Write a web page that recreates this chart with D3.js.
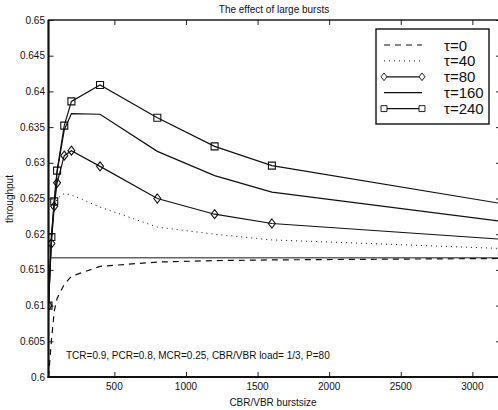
<!DOCTYPE html>
<html>
<head>
<meta charset="utf-8">
<script src="https://cdn.jsdelivr.net/npm/d3@7"></script>
<style>
  body { margin: 0; background: #fff; }
  text { font-family: "Liberation Sans", Arial, sans-serif; fill: #111; }
</style>
</head>
<body>
<script>
    // burst sizes where the curves were sampled
    const burstSizes = [40, 60, 80, 100, 150, 200, 400, 800, 1200, 1600, 3200];

    // throughput per tau value
    const tau0   = [0.6000, 0.6050, 0.6092, 0.6110, 0.6130, 0.6141, 0.6155, 0.6161, 0.6163, 0.6164, 0.6166];
    const tau40  = [0.6100, 0.6195, 0.6236, 0.6250, 0.6257, 0.6255, 0.6238, 0.6210, 0.6200, 0.6192, 0.6180];
    const tau80  = [0.6100, 0.6187, 0.6239, 0.6272, 0.6310, 0.6317, 0.6295, 0.6250, 0.6228, 0.6215, 0.6193];
    const tau160 = [0.6100, 0.6194, 0.6245, 0.6287, 0.6346, 0.6369, 0.6368, 0.6316, 0.6282, 0.6259, 0.6218];
    const tau240 = [0.6100, 0.6196, 0.6246, 0.6289, 0.6352, 0.6386, 0.6409, 0.6363, 0.6323, 0.6296, 0.6243];

    // the flat reference level
    const limitLevel = 0.6167;

    const legendLabels = ["τ=0", "τ=40", "τ=80", "τ=160", "τ=240"];
    const xTicks = [500, 1000, 1500, 2000, 2500, 3000];
    const yTicks = [0.6, 0.605, 0.61, 0.615, 0.62, 0.625, 0.63, 0.635, 0.64, 0.645, 0.65];

    const width = 498;
    const height = 410;
    const pLeft = 48.5, pRight = 501, pTop = 20, pBottom = 377;

    const svg = d3.select("body")
      .append("svg")
      .attr("width", width)
      .attr("height", height);

    const x = d3.scaleLinear().domain([40, 3200]).range([pLeft, pRight]);
    const y = d3.scaleLinear().domain([0.6, 0.65]).range([pBottom, pTop]);

    svg.append("clipPath").attr("id", "plot")
      .append("rect")
      .attr("x", pLeft).attr("y", pTop)
      .attr("width", pRight - pLeft).attr("height", pBottom - pTop);

    // axes, ticks pointing inward
    const fmtY = d => String(+d.toFixed(3));
    svg.append("g")
      .attr("transform", `translate(0,${pBottom})`)
      .call(d3.axisTop(x).tickValues(xTicks).tickSize(5).tickFormat(""));
    svg.append("g")
      .attr("transform", `translate(0,${pTop})`)
      .call(d3.axisBottom(x).tickValues(xTicks).tickSize(5).tickFormat(""));
    svg.append("g")
      .attr("transform", `translate(${pLeft},0)`)
      .call(d3.axisRight(y).tickValues(yTicks).tickSize(5).tickFormat(""));
    svg.append("g")
      .attr("transform", `translate(${pRight},0)`)
      .call(d3.axisLeft(y).tickValues(yTicks).tickSize(5).tickFormat(""));
    svg.selectAll(".domain").remove();
    svg.selectAll(".tick line").attr("stroke", "#222").attr("stroke-width", 1);

    // tick labels
    svg.append("g").selectAll("text")
      .data(xTicks)
      .enter()
      .append("text")
      .attr("x", d => x(d))
      .attr("y", pBottom + 13)
      .attr("text-anchor", "middle")
      .attr("font-size", 10)
      .text(d => d);
    svg.append("g").selectAll("text")
      .data(yTicks)
      .enter()
      .append("text")
      .attr("x", pLeft - 3.5)
      .attr("y", d => y(d) + 3.5)
      .attr("text-anchor", "end")
      .attr("font-size", 10)
      .text(fmtY);

    // frame
    svg.append("rect")
      .attr("x", pLeft).attr("y", pTop)
      .attr("width", pRight - pLeft).attr("height", pBottom - pTop)
      .attr("fill", "none")
      .attr("stroke", "#111")
      .attr("stroke-width", 1.4);
    svg.append("line")
      .attr("x1", pLeft).attr("x2", pLeft).attr("y1", pTop).attr("y2", pBottom + 1)
      .attr("stroke", "#111").attr("stroke-width", 2);
    svg.append("line")
      .attr("x1", pLeft - 1).attr("x2", pRight).attr("y1", pBottom).attr("y2", pBottom)
      .attr("stroke", "#111").attr("stroke-width", 2.2);

    const plot = svg.append("g").attr("clip-path", "url(#plot)");

    plot.append("line")
      .attr("x1", pLeft).attr("x2", pRight)
      .attr("y1", y(limitLevel)).attr("y2", y(limitLevel))
      .attr("stroke", "#666")
      .attr("stroke-width", 1.4);

    const series = [
      { values: tau0, dash: "6,5", marker: null },
      { values: tau40, dash: "1,4", marker: null },
      { values: tau80, dash: null, marker: "diamond" },
      { values: tau160, dash: null, marker: null },
      { values: tau240, dash: null, marker: "square" }
    ];

    const line = d3.line()
      .x((d, i) => x(burstSizes[i]))
      .y(d => y(d));

    const diamond = "M0,-4.5L3.5,0L0,4.5L-3.5,0Z";
    const square = "M-3.5,-3.5H3.5V3.5H-3.5Z";

    series.forEach(s => {
      plot.append("path")
        .attr("d", line(s.values))
        .attr("fill", "none")
        .attr("stroke", "#111")
        .attr("stroke-width", s.dash === "1,4" ? 1 : 1.2)
        .attr("stroke-dasharray", s.dash);
      if (s.marker) {
        // the last sample sits on the cropped right edge, no marker shows there
        plot.selectAll(null)
          .data(s.values.slice(0, -1))
          .enter()
          .append("path")
          .attr("transform", (d, i) => `translate(${x(burstSizes[i])},${y(d)})`)
          .attr("d", s.marker === "diamond" ? diamond : square)
          .attr("fill", "none")
          .attr("stroke", "#111")
          .attr("stroke-width", 1.1);
      }
    });

    // legend
    const lg = svg.append("g").attr("transform", "translate(376,29)");
    lg.append("rect")
      .attr("width", 113).attr("height", 95)
      .attr("fill", "#fff")
      .attr("stroke", "#111")
      .attr("stroke-width", 1.4);
    series.forEach((s, i) => {
      const yy = 16 + i * 15.9;
      lg.append("line")
        .attr("x1", 8).attr("x2", 46)
        .attr("y1", yy).attr("y2", yy)
        .attr("stroke", "#111")
        .attr("stroke-width", s.dash === "1,4" ? 1 : 1.2)
        .attr("stroke-dasharray", s.dash);
      if (s.marker) {
        [8, 46].forEach(mx => {
          lg.append("path")
            .attr("transform", `translate(${mx},${yy}) scale(0.85)`)
            .attr("d", s.marker === "diamond" ? diamond : square)
            .attr("fill", "#fff")
            .attr("stroke", "#111")
            .attr("stroke-width", 1.1);
        });
      }
      lg.append("text")
        .attr("x", 68)
        .attr("y", yy + 5.5)
        .attr("font-size", 15)
        .text(legendLabels[i]);
    });

    // titles and note
    svg.append("text")
      .attr("x", 274).attr("y", 12.5)
      .attr("text-anchor", "middle")
      .attr("font-size", 10)
      .text("The effect of large bursts");
    svg.append("text")
      .attr("x", 273).attr("y", 406)
      .attr("text-anchor", "middle")
      .attr("font-size", 10)
      .text("CBR/VBR burstsize");
    svg.append("text")
      .attr("transform", "translate(13,199) rotate(-90)")
      .attr("text-anchor", "middle")
      .attr("font-size", 10)
      .text("throughput");
    svg.append("text")
      .attr("x", 66).attr("y", 359)
      .attr("font-size", 10)
      .text("TCR=0.9, PCR=0.8, MCR=0.25, CBR/VBR load= 1/3, P=80");
</script>
</body>
</html>
